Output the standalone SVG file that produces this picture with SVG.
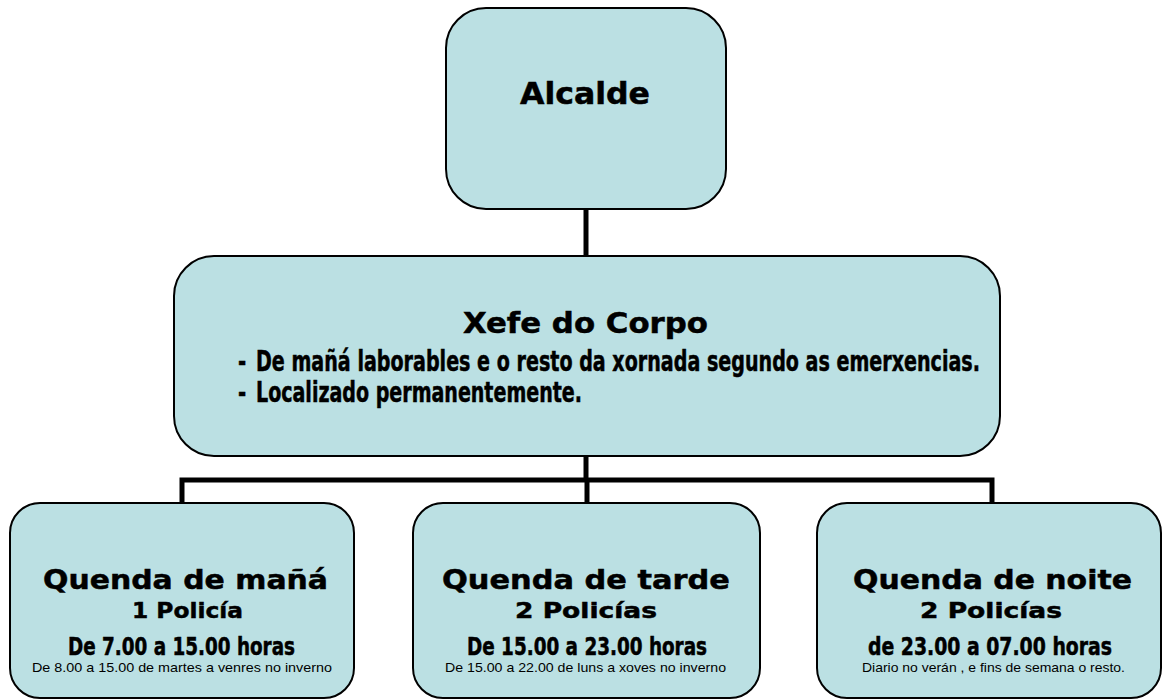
<svg xmlns="http://www.w3.org/2000/svg" width="1162" height="699" viewBox="0 0 1162 699">
<style>
.node{fill:#BBE0E3;stroke:#000;stroke-width:2}
.conn{stroke:#000;stroke-width:5;fill:none;stroke-linecap:butt}
.wide{font-family:"DejaVu Sans","Liberation Sans",sans-serif;font-weight:bold;fill:#000;stroke:#000;stroke-width:0.5;text-anchor:middle}
.narrow{font-family:"Liberation Sans Narrow","DejaVu Sans Condensed","Liberation Sans",sans-serif;font-weight:bold;fill:#000;stroke:#000;stroke-width:0.4}
.small{font-family:"Liberation Sans",Arial,sans-serif;font-size:13.5px;fill:#000;text-anchor:middle}
</style>
<rect width="1162" height="699" fill="#fff"/>
<g id="connectors">
<path class="conn" d="M586 209V256"/>
<path class="conn" d="M586 456V480"/>
<path class="conn" d="M182 503V480H992V503"/>
<path class="conn" d="M587 480V503"/>
</g>
<g id="alcalde">
<rect class="node" x="446" y="8" width="280" height="201" rx="40"/>
<text class="wide" x="585" y="104" font-size="30" textLength="130" lengthAdjust="spacingAndGlyphs">Alcalde</text>
</g>
<g id="xefe">
<rect class="node" x="174" y="256" width="826" height="200" rx="40"/>
<text class="wide" x="585.5" y="333" font-size="29" textLength="245" lengthAdjust="spacingAndGlyphs">Xefe do Corpo</text>
<text class="narrow" font-size="22" transform="translate(0,371) scale(1,1.25)"><tspan x="238" y="0">-</tspan><tspan x="256" y="0" textLength="724" lengthAdjust="spacingAndGlyphs">De mañá laborables e o resto da xornada segundo as emerxencias.</tspan></text>
<text class="narrow" font-size="22" transform="translate(0,402) scale(1,1.25)"><tspan x="238" y="0">-</tspan><tspan x="256" y="0" textLength="326" lengthAdjust="spacingAndGlyphs">Localizado permanentemente.</tspan></text>
</g>
<g id="quenda-manha">
<rect class="node" x="10" y="503" width="344" height="195" rx="30"/>
<text class="wide" x="185.5" y="589" font-size="27" textLength="285" lengthAdjust="spacingAndGlyphs">Quenda de mañá</text>
<text class="wide" x="187.5" y="618" font-size="22" textLength="111" lengthAdjust="spacingAndGlyphs">1 Policía</text>
<text class="narrow" font-size="20" transform="translate(0,655) scale(1,1.22)" x="68" y="0" textLength="227" lengthAdjust="spacingAndGlyphs">De 7.00 a 15.00 horas</text>
<text class="small" x="182" y="672" textLength="300" lengthAdjust="spacingAndGlyphs">De 8.00 a 15.00 de  martes a venres no inverno</text>
</g>
<g id="quenda-tarde">
<rect class="node" x="413" y="503" width="347" height="195" rx="30"/>
<text class="wide" x="586" y="589" font-size="27" textLength="288" lengthAdjust="spacingAndGlyphs">Quenda de tarde</text>
<text class="wide" x="586" y="618" font-size="22" textLength="142" lengthAdjust="spacingAndGlyphs">2 Policías</text>
<text class="narrow" font-size="20" transform="translate(0,655) scale(1,1.22)" x="467" y="0" textLength="240" lengthAdjust="spacingAndGlyphs">De 15.00 a 23.00 horas</text>
<text class="small" x="585.5" y="672" textLength="281" lengthAdjust="spacingAndGlyphs">De 15.00 a 22.00 de luns a xoves no inverno</text>
</g>
<g id="quenda-noite">
<rect class="node" x="817" y="503" width="344" height="195" rx="30"/>
<text class="wide" x="992.5" y="589" font-size="27" textLength="279" lengthAdjust="spacingAndGlyphs">Quenda de noite</text>
<text class="wide" x="991" y="618" font-size="22" textLength="142" lengthAdjust="spacingAndGlyphs">2 Policías</text>
<text class="narrow" font-size="20" transform="translate(0,655) scale(1,1.22)" x="868" y="0" textLength="244" lengthAdjust="spacingAndGlyphs">de 23.00 a 07.00 horas</text>
<text class="small" x="993.5" y="672" textLength="263" lengthAdjust="spacingAndGlyphs">Diario no verán , e fins  de semana o resto.</text>
</g>
</svg>
